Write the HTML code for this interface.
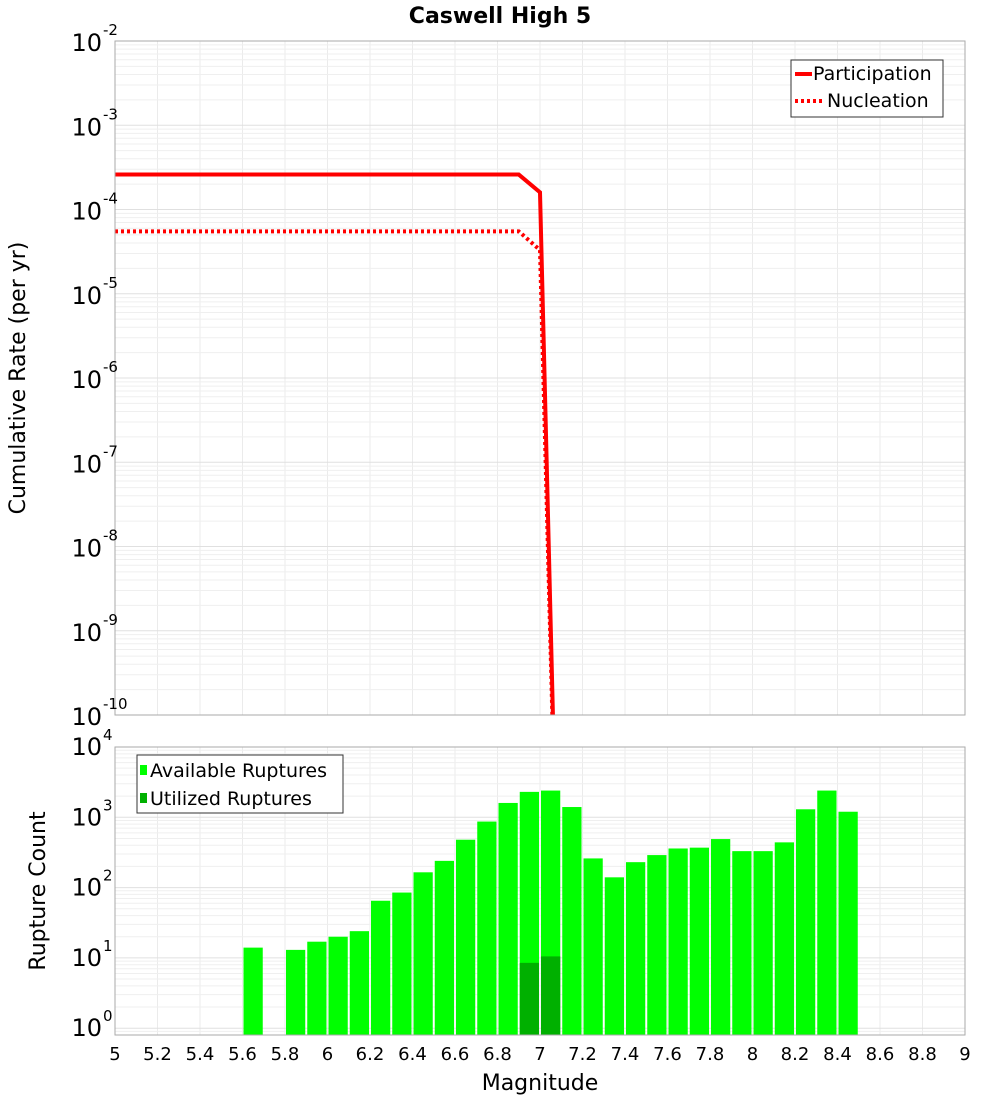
<!DOCTYPE html>
<html><head><meta charset="utf-8"><style>
body{margin:0;background:#fff;font-family:"DejaVu Sans","Liberation Sans",sans-serif;}
svg text{font-family:"DejaVu Sans","Liberation Sans",sans-serif;}
</style></head><body>
<svg id="c" width="1000" height="1100" xmlns="http://www.w3.org/2000/svg">
<text x="500" y="23" text-anchor="middle" font-size="22" font-weight="bold">Caswell High 5</text>
<g id="gtop"></g>
<g id="gbot"></g>
<text transform="translate(25,378) rotate(-90)" text-anchor="middle" font-size="22">Cumulative Rate (per yr)</text>
<text transform="translate(45,891) rotate(-90)" text-anchor="middle" font-size="22">Rupture Count</text>
<text x="540" y="1090" text-anchor="middle" font-size="22">Magnitude</text>
</svg>
<script>
const partMag=[5,6.9,7.0,7.1];
const partRate=[2.6e-4,2.6e-4,1.6e-4,1e-14];
const nuclMag=[5,6.9,7.0,7.1];
const nuclRate=[5.5e-5,5.5e-5,3.3e-5,1e-14];
const binCenters=[5.65,5.85,5.95,6.05,6.15,6.25,6.35,6.45,6.55,6.65,6.75,6.85,6.95,7.05,7.15,7.25,7.35,7.45,7.55,7.65,7.75,7.85,7.95,8.05,8.15,8.25,8.35,8.45];
const availCounts=[14,13,17,20,24,65,85,165,240,480,870,1600,2300,2400,1400,260,140,230,290,360,370,490,330,330,440,1300,2400,1200];
const utilCenters=[6.95,7.05];
const utilCounts=[8.5,10.5];
const xTicks=[5,5.2,5.4,5.6,5.8,6,6.2,6.4,6.6,6.8,7,7.2,7.4,7.6,7.8,8,8.2,8.4,8.6,8.8,9];
const rateExp=[-2,-3,-4,-5,-6,-7,-8,-9,-10];
const countExp=[4,3,2,1,0];

const NS='http://www.w3.org/2000/svg';
function mk(p,t,a){const e=document.createElementNS(NS,t);for(const k in a)e.setAttribute(k,a[k]);p.appendChild(e);return e;}
const X0=115,X1=965;
const xs=m=>X0+(m-5)/4*(X1-X0);
const T0=41,T1=715;
const yT=v=>T0+(-2-Math.log10(v))/8*(T1-T0);
const B0=747,B1=1035;
const bLo=Math.log10(0.8);
const yB=v=>B0+(4-Math.log10(v))/(4-bLo)*(B1-B0);
const gTop=document.getElementById('gtop'),gBot=document.getElementById('gbot');

function grid(g,y0,y1,yf,lo,hi){
  for(const t of xTicks){const l=mk(g,'line',{x1:xs(t),x2:xs(t),y1:y0,y2:y1,stroke:'#ebebeb'});
    
    }
  for(let e=Math.floor(lo);e<hi;e++)for(let k=1;k<10;k++){const v=k*Math.pow(10,e);const y=yf(v);if(y<y0-0.5||y>y1+0.5)continue;const l=mk(g,'line',{x1:X0,x2:X1,y1:y,y2:y,stroke:k==1?'#e0e0e0':'#efefef'});
    
    }
}
grid(gTop,T0,T1,yT,-10,-2);
grid(gBot,B0,B1,yB,-1,4);

const cp=mk(gTop,'clipPath',{id:'cpT'});mk(cp,'rect',{x:X0,y:T0,width:X1-X0,height:T1-T0});
function line(mags,vals,dash,name){const d=mags.map((m,i)=>(i?'L':'M')+xs(m)+','+yT(vals[i])).join(' ');const p=mk(gTop,'path',{d:d,fill:'none',stroke:'#ff0000','stroke-width':4,'clip-path':'url(#cpT)'});if(dash)p.setAttribute('stroke-dasharray','3,3');
  
  }
line(partMag,partRate,false,'participation-line');
line(nuclMag,nuclRate,true,'nucleation-line');
const fT=mk(gTop,'rect',{x:X0,y:T0,width:X1-X0,height:T1-T0,fill:'none',stroke:'#aaa'});



rateExp.forEach(e=>{const y=yT(Math.pow(10,e));const t=mk(gTop,'text',{x:102,y:y+10,'text-anchor':'end','font-size':24});t.textContent='10';
  
  
  const s=mk(gTop,'text',{x:103,y:y-6,'font-size':15});s.textContent=String(e);
  
  });

binCenters.forEach((c,i)=>{const y=yB(availCounts[i]);const r=mk(gBot,'rect',{x:xs(c-0.05)+1,y:y,width:xs(5.1)-X0-2,height:B1-y,fill:'#00ff00'});
  
  });
utilCenters.forEach((c,i)=>{const y=yB(utilCounts[i]);const r=mk(gBot,'rect',{x:xs(c-0.05)+1,y:y,width:xs(5.1)-X0-2,height:B1-y,fill:'#00b000'});
  
  });
const fB=mk(gBot,'rect',{x:X0,y:B0,width:X1-X0,height:B1-B0,fill:'none',stroke:'#aaa'});



countExp.forEach(e=>{const y=yB(Math.pow(10,e));const t=mk(gBot,'text',{x:102,y:y+8,'text-anchor':'end','font-size':24});t.textContent='10';
  
  
  const s=mk(gBot,'text',{x:103,y:y-7,'font-size':15});s.textContent=String(e);
  
  });
xTicks.forEach(m=>{const t=mk(gBot,'text',{x:xs(m),y:1060,'text-anchor':'middle','font-size':18});t.textContent=String(m);
  
  });
</script>
<svg style="position:absolute;left:0;top:0" width="1000" height="1100" pointer-events="none">
<g>
<rect x="791" y="60" width="152" height="57" fill="#fff" stroke="#333"/>
<line x1="795" y1="74" x2="812" y2="74" stroke="#f00" stroke-width="4"/>
<text x="813" y="80" font-size="19">Participation</text>
<line x1="795" y1="101" x2="822" y2="101" stroke="#f00" stroke-width="4" stroke-dasharray="3,3"/>
<text x="827" y="107" font-size="19">Nucleation</text>
</g>
<g>
<rect x="137" y="755" width="206" height="58" fill="#fff" stroke="#333"/>
<rect x="140" y="765" width="7" height="10" fill="#00ff00"/>
<text x="150" y="777" font-size="19">Available Ruptures</text>
<rect x="140" y="793" width="7" height="10" fill="#00b000"/>
<text x="150" y="805" font-size="19">Utilized Ruptures</text>
</g>
</svg>
</body></html>
